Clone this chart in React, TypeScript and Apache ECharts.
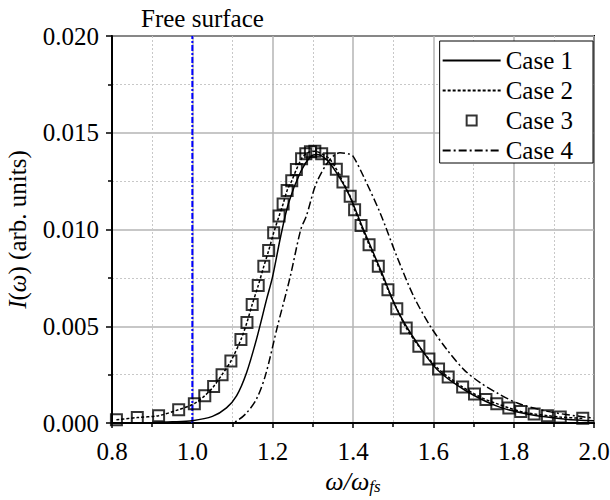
import React, { useEffect, useRef } from "react";
import * as echarts from "echarts";

const FONT = "'Liberation Serif'";

const seriesNames = ["Case 1", "Case 2", "Case 3", "Case 4"];

// Case 1 (solid)
const case1X = [0.8, 0.9, 0.95, 1.0, 1.05, 1.085, 1.11, 1.135, 1.16, 1.185, 1.2, 1.22, 1.24, 1.27, 1.295, 1.31, 1.335, 1.36, 1.39, 1.425, 1.47, 1.51, 1.56, 1.61, 1.68, 1.76, 1.84, 1.93, 2.0];
const case1Y = [0.0, 0.00003, 0.00006, 0.00012, 0.00034, 0.00078, 0.0014, 0.0026, 0.00435, 0.0064, 0.00758, 0.00965, 0.0114, 0.013, 0.01378, 0.01388, 0.0136, 0.0129, 0.0118, 0.01005, 0.00785, 0.00585, 0.00412, 0.00275, 0.00168, 0.00086, 0.00044, 0.0002, 0.00012];

// Case 3 (squares)
const case3X = [0.811, 0.863, 0.916, 0.966, 1.005, 1.031, 1.053, 1.074, 1.096, 1.121, 1.136, 1.149, 1.164, 1.178, 1.19, 1.2025, 1.216, 1.226, 1.236, 1.2475, 1.259, 1.272, 1.2825, 1.294, 1.305, 1.322, 1.341, 1.3585, 1.375, 1.393, 1.404, 1.42, 1.44, 1.463, 1.487, 1.509, 1.5325, 1.564, 1.589, 1.613, 1.637, 1.673, 1.7025, 1.731, 1.758, 1.788, 1.8175, 1.851, 1.884, 1.916, 1.972];
const case3Y = [0.00017, 0.00028, 0.00038, 0.00069, 0.001, 0.00141, 0.00189, 0.0025, 0.0032, 0.00431, 0.0052, 0.00612, 0.0071, 0.0081, 0.00891, 0.00983, 0.0107, 0.01132, 0.01202, 0.01252, 0.0131, 0.01366, 0.01391, 0.01402, 0.01405, 0.01391, 0.01366, 0.01312, 0.01245, 0.01172, 0.01102, 0.01021, 0.00921, 0.0081, 0.00689, 0.00591, 0.00491, 0.00396, 0.00331, 0.00279, 0.00238, 0.00186, 0.0015, 0.00121, 0.001, 0.00078, 0.0006, 0.00047, 0.00038, 0.00031, 0.00024];

// Case 2 (dotted) follows the squares
const case2X = case3X;
const case2Y = case3Y;

// Case 4 (dash-dot)
const case4X = [0.8, 1.09, 1.11, 1.135, 1.16, 1.1825, 1.212, 1.243, 1.27, 1.284, 1.309, 1.3425, 1.3675, 1.39, 1.4, 1.426, 1.4675, 1.509, 1.551, 1.5925, 1.634, 1.676, 1.7175, 1.759, 1.809, 1.884, 1.976, 2.0];
const case4Y = [0.0, 0.0, 0.0001, 0.00052, 0.00125, 0.0025, 0.005, 0.0075, 0.01, 0.0107, 0.01241, 0.01362, 0.01397, 0.0139, 0.01379, 0.01275, 0.01086, 0.00862, 0.00655, 0.005, 0.00379, 0.00276, 0.00207, 0.00155, 0.00103, 0.0006, 0.00031, 0.00026];

const freeSurfaceX = [1.0, 1.0];
const freeSurfaceY = [0.0, 0.02];
const freeSurfaceLabel = "Free surface";

const X_MIN = 0.8, X_MAX = 2.0, X_INT = 0.2;
const Y_MIN = 0, Y_MAX = 0.02, Y_INT = 0.005;

const zip = (xs: number[], ys: number[]) => xs.map((x, i) => [x, ys[i]]);

export default function App() {
  const ref = useRef<HTMLDivElement>(null);
  useEffect(() => {
    document.body.style.margin = "0";
    const chart = echarts.init(ref.current!, null, { renderer: "svg" });
    const black = "#000";
    const noSymbol = { color: "rgba(0,0,0,0)", borderColor: "rgba(0,0,0,0)", borderWidth: 0, opacity: 0 };
    chart.setOption({
      animation: false,
      backgroundColor: "#fff",
      textStyle: { fontFamily: FONT },
      grid: {
        left: 112, right: 16, top: 36, bottom: 77,
        containLabel: false, outerBoundsMode: "none",
        show: true, borderColor: black, borderWidth: 2, backgroundColor: "transparent",
      },
      graphic: [
        { type: "text", left: 141, top: 6, style: { text: freeSurfaceLabel, fontFamily: FONT, fontSize: 25, fill: black } },
      ],
      legend: {
        orient: "vertical",
        right: 17,
        top: 41,
        itemWidth: 58,
        itemHeight: 10,
        itemGap: 5,
        padding: [7, 20, 0, 2],
        borderColor: black,
        borderWidth: 1,
        borderRadius: 0,
        backgroundColor: "#fff",
        selectedMode: false,
        symbolKeepAspect: true,
        textStyle: { fontFamily: FONT, fontSize: 25, color: black, lineHeight: 20 },
        data: [
          { name: seriesNames[0], itemStyle: noSymbol },
          { name: seriesNames[1], itemStyle: noSymbol },
          { name: seriesNames[2], icon: "path://M0 0H10V10H0Z" },
          { name: seriesNames[3], itemStyle: noSymbol },
        ],
      },
      xAxis: {
        type: "value",
        min: X_MIN,
        max: X_MAX,
        interval: X_INT,
        axisLine: { show: true, onZero: false, lineStyle: { color: black, width: 2 } },
        axisTick: { show: true, inside: false, length: 5, lineStyle: { color: black, width: 1.5 } },
        minorTick: { show: true, splitNumber: 2, length: 4, lineStyle: { color: black, width: 1.5 } },
        splitLine: { show: true, lineStyle: { color: "#b4b4b4", width: 1.5 } },
        minorSplitLine: { show: true, lineStyle: { color: "#c8c8c8", width: 1, type: [2, 2] } },
        axisLabel: { fontFamily: FONT, fontSize: 25, color: black, margin: 16, formatter: (v: number) => v.toFixed(1) },
        name: "{i|ω/ω}{s|fs}",
        nameLocation: "middle",
        nameGap: 42,
        nameTextStyle: {
          rich: {
            i: { fontFamily: FONT, fontSize: 26, fontStyle: "italic", color: black },
            s: { fontFamily: FONT, fontSize: 17, fontStyle: "italic", color: black, padding: [10, 0, 0, 0] },
          },
        },
      },
      yAxis: {
        type: "value",
        min: Y_MIN,
        max: Y_MAX,
        interval: Y_INT,
        axisLine: { show: true, onZero: false, lineStyle: { color: black, width: 2 } },
        axisTick: { show: true, inside: false, length: 6, lineStyle: { color: black, width: 1.5 } },
        minorTick: { show: true, splitNumber: 2, length: 4, lineStyle: { color: black, width: 1.5 } },
        splitLine: { show: true, lineStyle: { color: "#b4b4b4", width: 1.5 } },
        minorSplitLine: { show: true, lineStyle: { color: "#c8c8c8", width: 1, type: [2, 2] } },
        axisLabel: { fontFamily: FONT, fontSize: 25, color: black, margin: 13, formatter: (v: number) => v.toFixed(3) },
        name: "{i|I}{n|(}{i|ω}{n|) (arb. units)}",
        nameLocation: "middle",
        nameGap: 82,
        nameTextStyle: {
          rich: {
            i: { fontFamily: FONT, fontSize: 25, fontStyle: "italic", color: black },
            n: { fontFamily: FONT, fontSize: 25, color: black },
          },
        },
      },
      series: [
        {
          name: "Free surface",
          type: "line",
          data: zip(freeSurfaceX, freeSurfaceY),
          symbol: "none",
          lineStyle: { color: "#0000ff", width: 2, type: [6, 2, 2, 2] },
          z: 3,
        },
        {
          name: "Case 1",
          type: "line",
          data: zip(case1X, case1Y),
          symbol: "none",
          smooth: 0.3,
          color: black,
          lineStyle: { color: black, width: 1.5, type: "solid" },
          z: 4,
        },
        {
          name: "Case 2",
          type: "line",
          data: zip(case2X, case2Y),
          symbol: "none",
          smooth: 0.3,
          color: black,
          lineStyle: { color: black, width: 1.5, type: [3, 2] },
          z: 4,
        },
        {
          name: "Case 3",
          type: "scatter",
          data: zip(case3X, case3Y),
          symbol: "rect",
          symbolSize: 11,
          itemStyle: { color: "rgba(255,255,255,0)", borderColor: black, borderWidth: 2 },
          z: 5,
        },
        {
          name: "Case 4",
          type: "line",
          data: zip(case4X, case4Y),
          symbol: "none",
          smooth: 0.3,
          color: black,
          lineStyle: { color: black, width: 1.5, type: [8, 3, 2, 3] },
          z: 4,
        },
      ],
    });
    return () => chart.dispose();
  }, []);
  return <div ref={ref} style={{ width: 610, height: 500 }} />;
}
